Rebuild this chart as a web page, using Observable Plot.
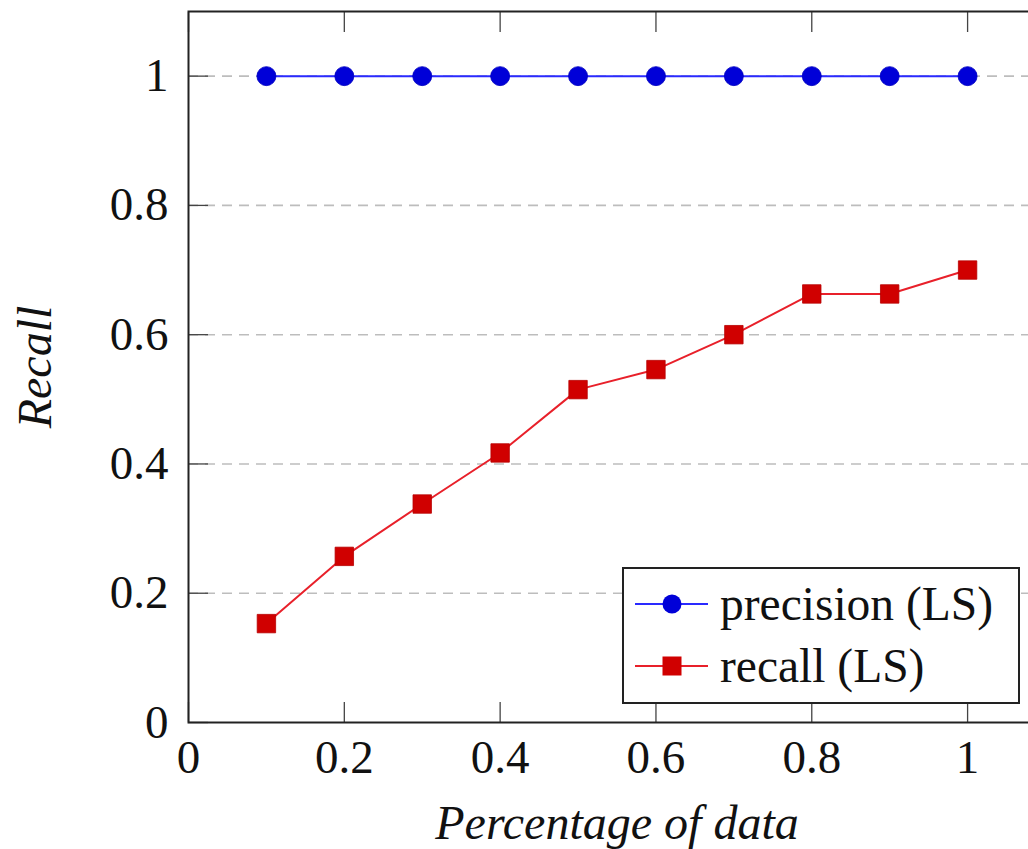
<!DOCTYPE html>
<html>
<head>
<meta charset="utf-8">
<script src="https://cdn.jsdelivr.net/npm/d3@7"></script>
<script src="https://cdn.jsdelivr.net/npm/@observablehq/plot@0.6"></script>
<style>
  html, body { margin: 0; padding: 0; background: #fff; overflow: hidden; }
  #wrap { position: relative; width: 1028px; height: 849px; overflow: hidden; }
  #chart { position: absolute; left: 0; top: 0; width: 1046px; }
  #legend { position: absolute; left: 622px; top: 567px; }
</style>
</head>
<body>
<div id="wrap"><div id="chart"></div><svg id="legend" width="398" height="137"></svg></div>
<script>
// ---- data ----
const xValues   = [0.1, 0.2, 0.3, 0.4, 0.5, 0.6, 0.7, 0.8, 0.9, 1.0];
const precision = [1, 1, 1, 1, 1, 1, 1, 1, 1, 1];
const recall    = [0.153, 0.257, 0.338, 0.417, 0.515, 0.546, 0.600, 0.663, 0.663, 0.700];
const xTicks = [0, 0.2, 0.4, 0.6, 0.8, 1];
const yTicks = [0, 0.2, 0.4, 0.6, 0.8, 1];
const gridTicks = [0.2, 0.4, 0.6, 0.8, 1];
const seriesNames = ["precision (LS)", "recall (LS)"];
const xLabel = "Percentage of data";
const yLabel = "Recall";

const precData = xValues.map((x, i) => ({x, y: precision[i]}));
const recData  = xValues.map((x, i) => ({x, y: recall[i]}));

const fmt = d => String(+d.toFixed(1));
const FONT = "'Liberation Serif', 'Times New Roman', serif";
const tickColor = "#444";

const chart = Plot.plot({
  width: 1046,
  height: 849,
  marginLeft: 188,
  marginRight: 1,
  marginTop: 11,
  marginBottom: 127,
  style: {fontFamily: FONT, fontSize: "47px", background: "white", color: "#111", maxWidth: "none"},
  x: {domain: [0, 1.1]},
  y: {domain: [0, 1.1]},
  marks: [
    Plot.gridY(gridTicks, {stroke: "#bdbdbd", strokeOpacity: 1, strokeWidth: 1.6, strokeDasharray: "10,7"}),
    Plot.axisX(xTicks, {anchor: "bottom", tickSize: -20, tickPadding: 37, tickFormat: fmt, stroke: tickColor, strokeWidth: 1.3, fontSize: 47, label: null}),
    Plot.axisX(xTicks, {anchor: "top", tickSize: -20, tickFormat: () => "", stroke: tickColor, strokeWidth: 1.3, label: null}),
    Plot.axisY(yTicks, {anchor: "left", tickSize: -20, tickPadding: 40, tickFormat: fmt, stroke: tickColor, strokeWidth: 1.3, fontSize: 47, label: null}),
    Plot.line(precData, {x: "x", y: "y", stroke: "#2a2aff", strokeWidth: 2}),
    Plot.dot(precData, {x: "x", y: "y", r: 9.5, fill: "#0000d8", stroke: "#0000c0", strokeWidth: 0.8, symbol: "circle"}),
    Plot.line(recData, {x: "x", y: "y", stroke: "#e8202a", strokeWidth: 2}),
    Plot.dot(recData, {x: "x", y: "y", r: 10.4, fill: "#d00000", stroke: "#b80000", strokeWidth: 0.8, symbol: "square"}),
    Plot.frame({stroke: "#222", strokeWidth: 2}),
    Plot.text([xLabel], {frameAnchor: "bottom", textAnchor: "middle", lineAnchor: "middle", dy: 101, fontStyle: "italic", fontSize: 48, fill: "#111"}),
    Plot.text([yLabel], {frameAnchor: "left", textAnchor: "middle", lineAnchor: "middle", rotate: -90, dx: -153, fontStyle: "italic", fontSize: 48, fill: "#111"})
  ]
});
document.getElementById("chart").appendChild(chart);

// ---- legend (inside the plot area, lower right) ----
const lg = d3.select("#legend");
lg.append("rect").attr("x", 1).attr("y", 1).attr("width", 396).attr("height", 135)
  .attr("fill", "white").attr("stroke", "#222").attr("stroke-width", 2);
const rows = [
  {name: seriesNames[0], line: "#2a2aff", fill: "#0000d8", shape: "circle"},
  {name: seriesNames[1], line: "#e8202a", fill: "#d00000", shape: "square"}
];
rows.forEach((r, i) => {
  const cy = 37 + i * 62;
  lg.append("line").attr("x1", 13).attr("x2", 86).attr("y1", cy).attr("y2", cy)
    .attr("stroke", r.line).attr("stroke-width", 2);
  if (r.shape === "circle") {
    lg.append("circle").attr("cx", 50).attr("cy", cy).attr("r", 9.5).attr("fill", r.fill);
  } else {
    lg.append("rect").attr("x", 50 - 9.5).attr("y", cy - 9.5).attr("width", 19).attr("height", 19).attr("fill", r.fill);
  }
  lg.append("text").attr("x", 98).attr("y", cy).attr("dy", "0.33em")
    .attr("font-family", FONT).attr("font-size", 47.5).attr("fill", "#111").text(r.name);
});
</script>
</body>
</html>
